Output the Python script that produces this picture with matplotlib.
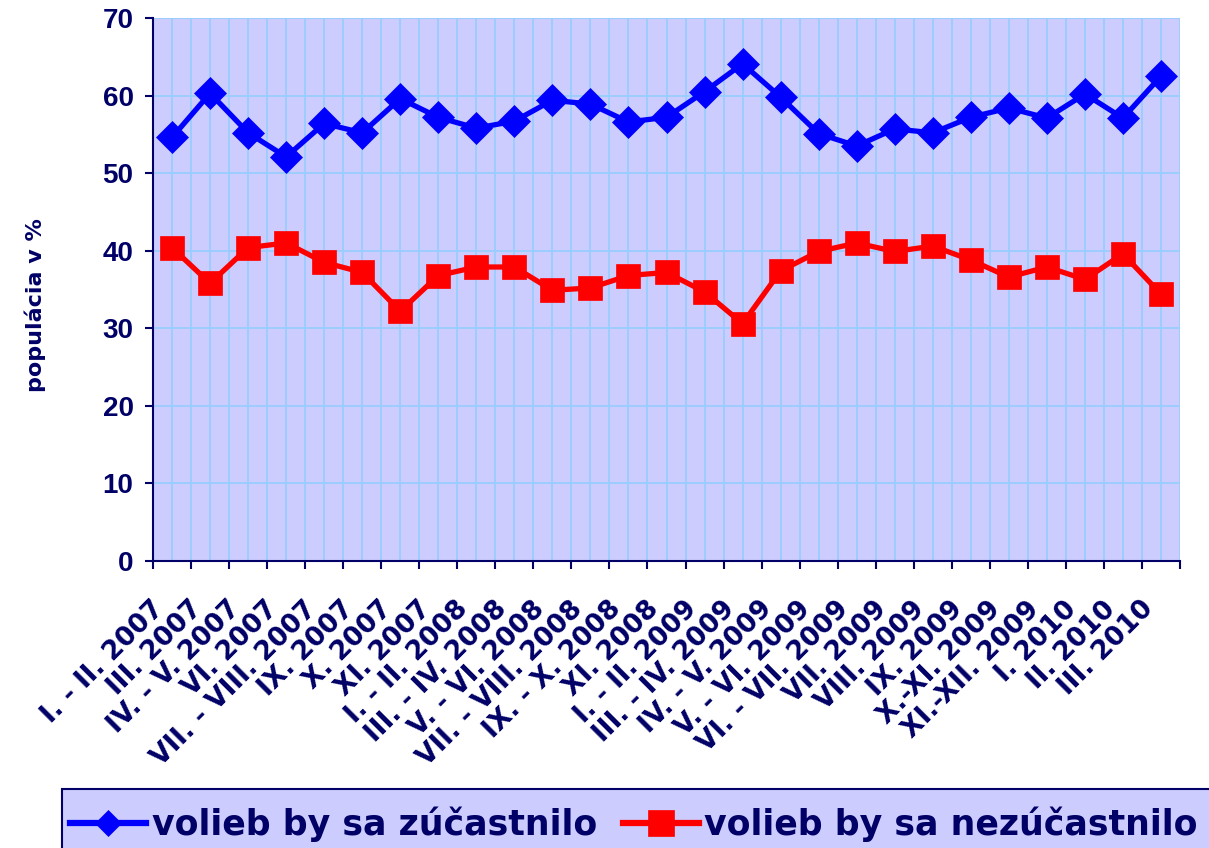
import matplotlib
matplotlib.use('Agg')
import matplotlib.pyplot as plt
import matplotlib.transforms as mtransforms
from matplotlib.lines import Line2D
from matplotlib.patches import Rectangle
from matplotlib.font_manager import FontProperties
import numpy as np

categories = [
    "I. - II. 2007", "III. 2007", "IV. - V. 2007", "VI. 2007", "VII. - VIII. 2007",
    "IX. 2007", "X. 2007", "XI. 2007", "I. - II. 2008", "III. - IV. 2008",
    "V. - VI. 2008", "VII. - VIII. 2008", "IX. - X. 2008", "XI. 2008",
    "I. - II. 2009", "III. - IV. 2009", "IV. - V. 2009", "V. - VI. 2009",
    "VI. - VII. 2009", "VII. 2009", "VIII. 2009", "IX. 2009", "X.-XI. 2009",
    "XI.-XII. 2009", "I. 2010", "II. 2010", "III. 2010",
]
zucastnilo = [54.6, 60.3, 55.2, 52.1, 56.4, 55.2, 59.6, 57.2, 55.8, 56.7,
              59.4, 58.9, 56.6, 57.2, 60.5, 64.1, 59.8, 55.1, 53.5, 55.7,
              55.2, 57.2, 58.4, 57.1, 60.2, 57.1, 62.5]
nezucastnilo = [40.4, 35.8, 40.4, 41.0, 38.5, 37.2, 32.2, 36.8, 37.9, 37.9,
                34.9, 35.2, 36.8, 37.2, 34.7, 30.6, 37.4, 39.9, 41.0, 39.9,
                40.6, 38.8, 36.6, 37.9, 36.3, 39.6, 34.4]
series_labels = ["volieb by sa zúčastnilo", "volieb by sa nezúčastnilo"]
yticks = [0, 10, 20, 30, 40, 50, 60, 70]

W, H = 1209, 848
NAVY = '#000066'
BG = '#CCCCFF'
GRID = '#99CCFF'

fig = plt.figure(figsize=(W / 100, H / 100), dpi=100)
ax = fig.add_axes([153 / W, 1 - 561 / H, (1180 - 153) / W, (561 - 18) / H])
ax.set_facecolor(BG)

n = len(categories)
x = np.arange(n)

ax.set_xlim(-0.5, n - 0.5)
ax.set_ylim(0, 70)

# major x ticks on category boundaries, minor (labelled) at centres
ax.set_xticks(np.arange(-0.5, n, 1.0))
ax.set_xticklabels([])
ax.set_xticks(x, categories, minor=True)
ax.set_yticks(yticks)

ax.tick_params(axis='x', which='major', direction='out', length=6, width=1.5, color=NAVY)
ax.tick_params(axis='x', which='minor', length=0, pad=0)
ax.tick_params(axis='y', which='major', direction='out', length=6, width=1.5, color=NAVY,
               pad=8, labelsize=20, labelcolor=NAVY)
for lbl in ax.get_yticklabels():
    lbl.set_fontfamily('Liberation Sans')
    lbl.set_fontweight('bold')

offset = mtransforms.ScaledTranslation(-21 / 100, -35 / 100, fig.dpi_scale_trans)
for lbl in ax.get_xticklabels(minor=True):
    lbl.set_rotation(45)
    lbl.set_rotation_mode('anchor')
    lbl.set_ha('right')
    lbl.set_va('top')
    lbl.set_fontfamily('DejaVu Sans')
    lbl.set_fontweight('bold')
    lbl.set_fontsize(19)
    lbl.set_color(NAVY)
    lbl.set_transform(lbl.get_transform() + offset)

ax.grid(True, which='both', axis='x', color=GRID, linewidth=1.3, zorder=0)
ax.grid(True, which='major', axis='y', color=GRID, linewidth=1.3, zorder=0)
ax.set_axisbelow(True)

for side in ['top', 'right']:
    ax.spines[side].set_visible(False)
for side in ['left', 'bottom']:
    ax.spines[side].set_color(NAVY)
    ax.spines[side].set_linewidth(1.5)

ax.plot(x, zucastnilo, color='#0000FF', linewidth=3.8, marker='D', markersize=16,
        markeredgewidth=0.5, markerfacecolor='#0000FF', markeredgecolor='#0000FF',
        zorder=3, clip_on=False)
ax.plot(x, nezucastnilo, color='#FF0000', linewidth=3.8, marker='s', markersize=17.5,
        markeredgewidth=0.5, markerfacecolor='#FF0000', markeredgecolor='#FF0000',
        zorder=3, clip_on=False)

ax.set_ylabel("populácia v %", fontsize=16, fontweight='bold', family='DejaVu Sans',
              color=NAVY)
ax.yaxis.label.set_va('center')
ax.yaxis.set_label_coords((35 - 153) / (1180 - 153), (561 - 305) / (561 - 18))

# legend box
fig.patches.append(Rectangle((62 / W, -0.05), 1.0, (848 - 789) / H + 0.05,
                             transform=fig.transFigure, facecolor=BG,
                             edgecolor=NAVY, linewidth=1.5, zorder=0))
handles = [
    Line2D([], [], color='#0000FF', linewidth=4.5, marker='D', markersize=13,
           markeredgewidth=0.5),
    Line2D([], [], color='#FF0000', linewidth=4.5, marker='s', markersize=19,
           markeredgewidth=0.5),
]
leg = fig.legend(handles, series_labels, loc='center left',
                 bbox_to_anchor=(70 / W, 1 - 824 / H), frameon=False, ncol=2,
                 borderpad=0, borderaxespad=0, handlelength=2.2,
                 handletextpad=0.15, columnspacing=0.75,
                 prop=FontProperties(family='DejaVu Sans', weight='bold', size=25))
for t in leg.get_texts():
    t.set_color(NAVY)

fig.savefig('out.png', dpi=100, facecolor='white')
